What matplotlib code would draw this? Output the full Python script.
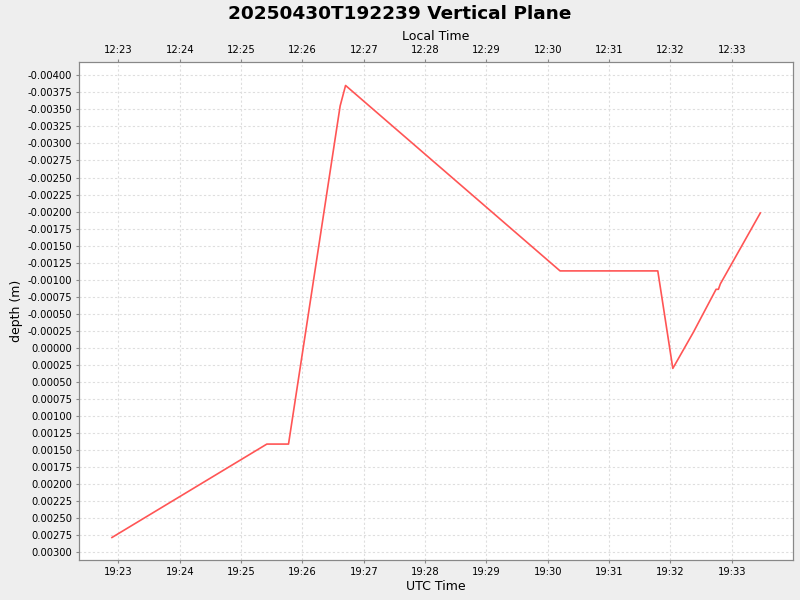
import datetime as dt
import matplotlib
matplotlib.use('Agg')
import matplotlib.pyplot as plt
import matplotlib.dates as mdates
from matplotlib.ticker import FuncFormatter, MultipleLocator

# vertices of the depth trace (UTC time, depth in m)
times = ['19:22:53.7', '19:25:25.2', '19:25:46.4', '19:26:36.9', '19:26:42.2',
         '19:30:12.0', '19:31:47.6', '19:32:02.3', '19:32:22.4', '19:32:44.6',
         '19:32:46.9', '19:32:48.8', '19:33:27.9']
depths = [0.00278, 0.00141, 0.00141, -0.00355, -0.00385,
          -0.00113, -0.00113, 0.00030, -0.00023, -0.00086,
          -0.00086, -0.00094, -0.00198]

utc_offset_hours = -7
title = '20250430T192239 Vertical Plane'

day = dt.datetime(2025, 4, 30)
def to_dt(s):
    h, m, sec = s.split(':')
    return day + dt.timedelta(hours=int(h), minutes=int(m), seconds=float(sec))

x = [to_dt(t) for t in times]
x0 = to_dt('19:22:21.5')
x1 = to_dt('19:33:59.5')

plt.rcParams['axes.unicode_minus'] = False
fig = plt.figure(figsize=(8, 6), dpi=100, facecolor='#eeeeee')
ax = fig.add_axes([0.0988, 0.0667, 0.892, 0.8295])
ax.set_facecolor('white')
ax.plot(x, depths, color='#ff5555', linewidth=1.2)

ax.set_xlim(x0, x1)
ax.set_ylim(0.00311, -0.00419)
ax.yaxis.set_major_locator(MultipleLocator(0.00025))
ax.yaxis.set_major_formatter(FuncFormatter(lambda v, p: '%.5f' % (0.0 if abs(v) < 1e-12 else v)))
ax.xaxis.set_major_locator(mdates.MinuteLocator())
ax.xaxis.set_major_formatter(mdates.DateFormatter('%H:%M'))
ax.grid(True, color='#dedede', linestyle=(0, (2, 2)), linewidth=0.8)

ax.set_xlabel('UTC Time', fontsize=9, labelpad=2)
ax.set_ylabel('depth (m)', fontsize=9, labelpad=3)

top = ax.twiny()
off = dt.timedelta(hours=utc_offset_hours)
top.set_xlim(x0 + off, x1 + off)
top.xaxis.set_major_locator(mdates.MinuteLocator())
top.xaxis.set_major_formatter(mdates.DateFormatter('%H:%M'))
top.set_xlabel('Local Time', fontsize=9, labelpad=4)

for a in (ax, top):
    a.tick_params(labelsize=7.2, length=2, color='#888888', pad=3)
    for s in a.spines.values():
        s.set_color('#888888')

fig.suptitle(title, fontsize=13.3, fontweight='bold', y=0.992)
fig.savefig('out.png', dpi=100, facecolor=fig.get_facecolor())
